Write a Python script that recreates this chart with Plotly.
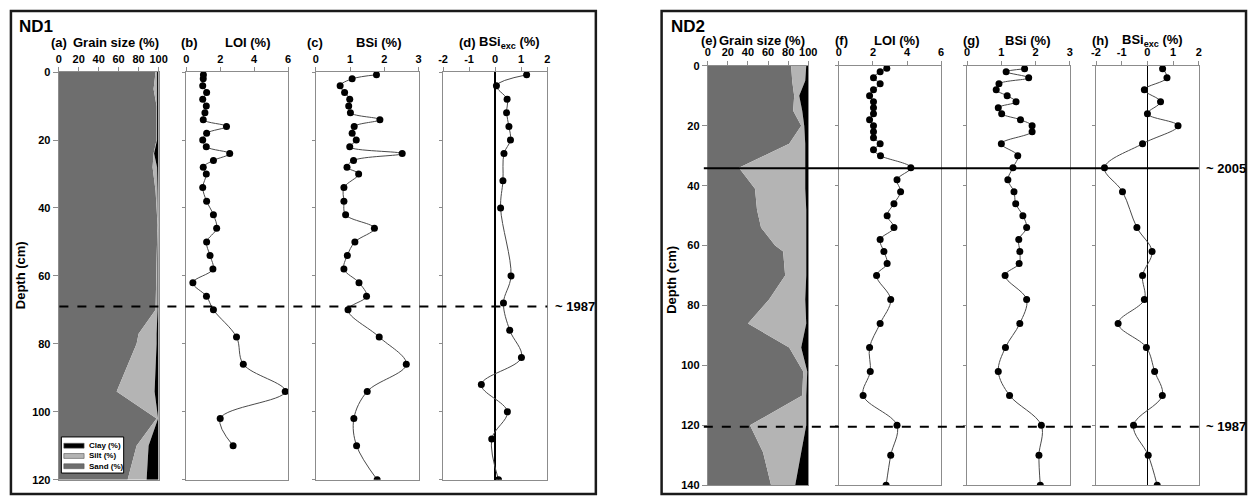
import plotly.graph_objects as go

W, H = 1257, 502

# ---------------- DATA ----------------
# ND1 grain size (%)
depth_g1 = [0, 5, 10, 20, 24, 28, 35, 45, 55, 65, 70, 77, 80, 94, 102, 110, 120]
sand1 = [97, 95, 98, 98, 95, 94, 97, 99, 98, 97, 97, 80, 78, 58, 98, 78, 69]
silt1 = [1.5, 3.5, 0.5, 0.5, 0.5, 4.5, 2, 0.5, 1, 2, 2, 18, 20, 38, 1.5, 12, 19]
clay1 = [1.5, 1.5, 1.5, 1.5, 4.5, 1.5, 1, 0.5, 1, 1, 1, 2, 2, 4, 0.5, 10, 12]

# ND1 LOI (%)
depth_loi1 = [0.8, 2, 4, 6, 8, 10, 12, 14, 16, 18, 20, 22, 24, 26, 28, 30,
              34, 38, 42, 46, 50, 54, 58, 62, 66, 70, 78, 86, 94, 102, 110]
loi1 = [1.01, 1.0, 0.97, 1.2, 0.97, 1.18, 1.1, 1.0, 2.37, 1.2, 0.97, 1.18, 2.56, 1.6, 1.0, 1.18,
        0.97, 1.2, 1.6, 1.79, 1.2, 1.4, 1.57, 0.39, 1.19, 1.6, 2.96, 3.36, 5.83, 2.0, 2.76]

# ND1 BSi (%)
depth_bsi1 = [0.8, 2, 4, 6, 8, 10, 12, 14, 16, 18, 20, 22, 24, 26, 28, 30,
              34, 38, 42, 46, 50, 54, 58, 62, 66, 70, 78, 86, 94, 102, 110, 120]
bsi1 = [1.77, 1.06, 0.71, 0.84, 0.99, 0.96, 1.01, 1.87, 1.12, 1.06, 1.18, 0.99, 2.52, 1.10, 0.91, 1.25,
        0.82, 0.82, 0.87, 1.71, 1.14, 0.92, 0.82, 1.26, 1.48, 0.94, 1.85, 2.64, 1.50, 1.11, 1.19, 1.79]

# ND1 BSi excess (%)
depth_exc1 = [0.8, 4, 8, 12, 16, 20, 24, 32, 40, 60, 68, 76, 84, 92, 100, 108, 120]
exc1 = [1.21, 0.05, 0.46, 0.44, 0.53, 0.59, 0.34, 0.30, 0.21, 0.61, 0.32, 0.56, 1.01, -0.53, 0.47, -0.13, 0.13]

# ND2 grain size (%)
depth_g2 = [0, 5, 10, 15, 20, 26, 34, 41, 48, 54, 60, 62, 70, 78, 86, 94, 102, 110, 120, 129, 140]
sand2 = [83, 84, 86, 85, 93, 81, 31, 47, 49, 53, 67, 75, 77, 61, 40, 81, 95, 94, 42, 55, 63]
silt2 = [15, 13, 5, 9, 3, 16, 66, 50, 49, 45, 31, 23, 21, 36, 58, 12, 4, 4, 56, 38, 24]
clay2 = [2, 3, 9, 6, 4, 3, 3, 3, 2, 2, 2, 2, 2, 3, 2, 7, 1, 2, 2, 7, 13]

# ND2 LOI (%)
depth_loi2 = [0.8, 2, 4, 6, 8, 10, 12, 14, 16, 18, 20, 22, 24, 26, 28, 30,
              34, 38, 42, 46, 50, 54, 58, 62, 66, 70, 78, 86, 94, 102, 110, 120, 130, 140]
loi2 = [2.81, 2.42, 2.03, 2.42, 2.03, 1.80, 2.03, 2.03, 2.03, 1.80, 2.03, 2.03, 2.03, 2.42, 2.03, 2.44,
        4.22, 3.41, 3.62, 3.23, 2.83, 3.23, 2.42, 2.64, 2.83, 2.21, 3.04, 2.42, 1.80, 1.84, 1.42,
        3.41, 3.04, 2.77]

# ND2 BSi (%)
depth_bsi2 = [1, 2, 4, 6, 8, 10, 12, 14, 16, 18, 20, 22, 26, 30,
              34, 38, 42, 46, 50, 54, 58, 62, 66, 70, 78, 86, 94, 102, 110, 120, 130, 140]
bsi2 = [1.68, 1.14, 1.80, 0.93, 0.85, 1.17, 1.43, 0.91, 1.01, 1.56, 1.90, 1.90, 1.00, 1.48,
        1.34, 1.19, 1.37, 1.42, 1.63, 1.74, 1.51, 1.54, 1.52, 1.11, 1.74, 1.54, 1.12, 0.91, 1.24,
        2.17, 2.10, 2.14]

# ND2 BSi excess (%)
depth_exc2 = [1, 4, 8, 12, 16, 20, 26, 34, 42, 54, 62, 70, 78, 86, 94, 102, 110, 120, 130, 140]
exc2 = [0.59, 0.76, -0.12, 0.51, 0.0, 1.19, -0.19, -1.67, -0.97, -0.41, 0.18, -0.19, -0.12, -1.14,
        -0.04, 0.28, 0.58, -0.54, 0.03, 0.38]

# tick labels for the BSi-excess axes (plain hyphen minus, as in the original)
exc_tickvals = [-2, -1, 0, 1, 2]
exc_ticktext = ["-2", "-1", "0", "1", "2"]

# dated horizons (depth, cm)
nd1_1987 = 69
nd2_2005 = 34.2
nd2_1987 = 120.5

# ---------------- STYLE HELPERS ----------------
FONT = "Arial, Liberation Sans, sans-serif"
SAND_C, SILT_C, CLAY_C = "#6e6e6e", "#b4b4b4", "#000000"
FRAME_C = "#8c8c8c"


def px(x):
    return x / W


def py(y):
    return 1 - y / H


fig = go.Figure()

# panel geometry (pixel edges), x ranges, tick steps
panels = [
    (54.3, 155.3, [0, 100], 20, 1),
    (183.3, 286.3, [0, 6], 2, 1),
    (314.3, 418.3, [0, 3], 1, 1),
    (443.0, 548.3, [-2, 2], 1, 1),
    (710.7, 812.3, [0, 100], 20, 2),
    (843.3, 946.7, [0, 6], 2, 2),
    (973.0, 1076.7, [0, 3], 1, 2),
    (1103.3, 1207.3, [-2, 2], 1, 2),
]
ydom = {1: [py(485.3), py(67.7)], 2: [py(491.0), py(61.3)]}
yrng = {1: [120, 0], 2: [140, 0]}

for i, (x0, x1, rng, dt, grp) in enumerate(panels, start=1):
    sx = "" if i == 1 else str(i)
    is_grain = i in (1, 5)
    is_exc = i in (4, 8)
    xa = dict(
        domain=[px(x0), px(x1)], range=rng,
        side="top", anchor="y" + sx, showgrid=False,
        showline=True, linecolor=FRAME_C, linewidth=1, mirror=True,
        ticks="outside", ticklen=4, tickcolor=FRAME_C,
        tickfont=dict(family=FONT, size=11, color="black", weight="bold"),
        zeroline=is_exc, zerolinecolor="black", zerolinewidth=2 if i == 4 else 1.4,
        fixedrange=True,
    )
    if is_exc:
        xa.update(tickmode="array", tickvals=exc_tickvals, ticktext=exc_ticktext)
    else:
        xa.update(dtick=dt, tick0=rng[0])
    fig.layout["xaxis" + sx] = xa
    fig.layout["yaxis" + sx] = dict(
        domain=ydom[grp], range=yrng[grp], dtick=20, tick0=0,
        anchor="x" + sx, showgrid=False, zeroline=False,
        showline=True, linecolor=FRAME_C, linewidth=1, mirror=True,
        ticks="outside", ticklen=5 if is_grain else 3, tickcolor=FRAME_C,
        showticklabels=is_grain,
        tickfont=dict(family=FONT, size=11, color="black", weight="bold"),
        fixedrange=True,
    )


def grain(depth, sand, silt, clay, ax):
    xa, ya = ("x", "y") if ax == 1 else ("x" + str(ax), "y" + str(ax))
    c_sand = list(sand)
    c_silt = [a + b for a, b in zip(sand, silt)]
    c_clay = [a + b + c for a, b, c in zip(sand, silt, clay)]
    fig.add_trace(go.Scatter(x=c_sand, y=depth, mode="lines", line=dict(width=0, color=SAND_C),
                             fill="tozerox", fillcolor=SAND_C, name="Sand (%)",
                             showlegend=False, xaxis=xa, yaxis=ya))
    fig.add_trace(go.Scatter(x=c_silt, y=depth, mode="lines", line=dict(width=0, color=SILT_C),
                             fill="tonextx", fillcolor=SILT_C, name="Silt (%)",
                             showlegend=False, xaxis=xa, yaxis=ya))
    fig.add_trace(go.Scatter(x=c_clay, y=depth, mode="lines", line=dict(width=0, color=CLAY_C),
                             fill="tonextx", fillcolor=CLAY_C, name="Clay (%)",
                             showlegend=False, xaxis=xa, yaxis=ya))


def profile(depth, vals, ax, name):
    xa, ya = ("x" + str(ax), "y" + str(ax))
    fig.add_trace(go.Scatter(x=vals, y=depth, mode="lines+markers", name=name,
                             line=dict(color="#4a4a4a", width=1, shape="spline", smoothing=1.0),
                             marker=dict(color="black", size=7),
                             showlegend=False, xaxis=xa, yaxis=ya))


grain(depth_g1, sand1, silt1, clay1, 1)
profile(depth_loi1, loi1, 2, "ND1 LOI")
profile(depth_bsi1, bsi1, 3, "ND1 BSi")
profile(depth_exc1, exc1, 4, "ND1 BSi exc")
grain(depth_g2, sand2, silt2, clay2, 5)
profile(depth_loi2, loi2, 6, "ND2 LOI")
profile(depth_bsi2, bsi2, 7, "ND2 BSi")
profile(depth_exc2, exc2, 8, "ND2 BSi exc")

shapes = []
annos = []

# outer boxes
for (l, r) in [(6, 597.5), (664, 1255)]:
    shapes.append(dict(type="rect", xref="paper", yref="paper",
                       x0=px(l), x1=px(r), y0=py(500), y1=py(5),
                       line=dict(color="#1a1a1a", width=2.5), fillcolor="rgba(0,0,0,0)"))

# horizon lines
shapes.append(dict(type="line", xref="paper", yref="y", x0=px(55), x1=px(548.3),
                   y0=nd1_1987, y1=nd1_1987, line=dict(color="black", width=2, dash="dash")))
shapes.append(dict(type="line", xref="paper", yref="y5", x0=px(706.7), x1=px(1207.3),
                   y0=nd2_2005, y1=nd2_2005, line=dict(color="black", width=2)))
shapes.append(dict(type="line", xref="paper", yref="y5", x0=px(706.7), x1=px(1207.3),
                   y0=nd2_1987, y1=nd2_1987, line=dict(color="black", width=2, dash="dash")))


def txt(text, x, y, size=13, xanchor="left", yref="paper", textangle=0):
    annos.append(dict(text=text, x=x, y=y, xref="paper", yref=yref, showarrow=False,
                      xanchor=xanchor, yanchor="middle", textangle=textangle,
                      font=dict(family=FONT, size=size, color="black", weight="bold")))


txt("~ 1987", px(554), nd1_1987, yref="y")
txt("~ 2005", px(1212), nd2_2005, yref="y5")
txt("~ 1987", px(1213), nd2_1987, yref="y5")

txt("ND1", px(12), py(21), size=17)
txt("ND2", px(671), py(21), size=17)

titles = [
    ("(a)", 45, "Grain size (%)", 67, 37),
    ("(b)", 176, "LOI (%)", 220, 37),
    ("(c)", 303, "BSi (%)", 353, 37),
    ("(d)", 457, "BSi<sub>exc</sub> (%)", 477, 37),
    ("(e)", 702, "Grain size (%)", 720, 35),
    ("(f)", 837, "LOI (%)", 877, 35),
    ("(g)", 967, "BSi (%)", 1009, 35),
    ("(h)", 1097, "BSi<sub>exc</sub> (%)", 1128, 35),
]
for lab, lx, name, nx, ty in titles:
    txt(lab, px(lx), py(ty))
    txt(name, px(nx), py(ty))

txt("Depth (cm)", px(16), py(276), textangle=-90, xanchor="center")
txt("Depth (cm)", px(674), py(280), textangle=-90, xanchor="center")

# legend in panel (a)
shapes.append(dict(type="rect", xref="paper", yref="paper", x0=px(57), x1=px(120),
                   y0=py(478.5), y1=py(441.5), line=dict(color="black", width=1), fillcolor="white"))
for nm, col, yc in [("Clay (%)", CLAY_C, 450.5), ("Silt (%)", SILT_C, 461), ("Sand (%)", SAND_C, 471.5)]:
    shapes.append(dict(type="rect", xref="paper", yref="paper", x0=px(59.5), x1=px(80),
                       y0=py(yc + 2.5), y1=py(yc - 2.5), line=dict(color="#555", width=0.6),
                       fillcolor=col))
    txt(nm, px(82.5), py(yc), size=8)

fig.update_layout(width=W, height=H, margin=dict(l=0, r=0, t=0, b=0),
                  paper_bgcolor="white", plot_bgcolor="white",
                  showlegend=False, shapes=shapes, annotations=annos)

fig.write_html("out.html", config={"displayModeBar": False},
               post_script="document.body.style.margin='0';document.body.style.overflow='hidden';")
